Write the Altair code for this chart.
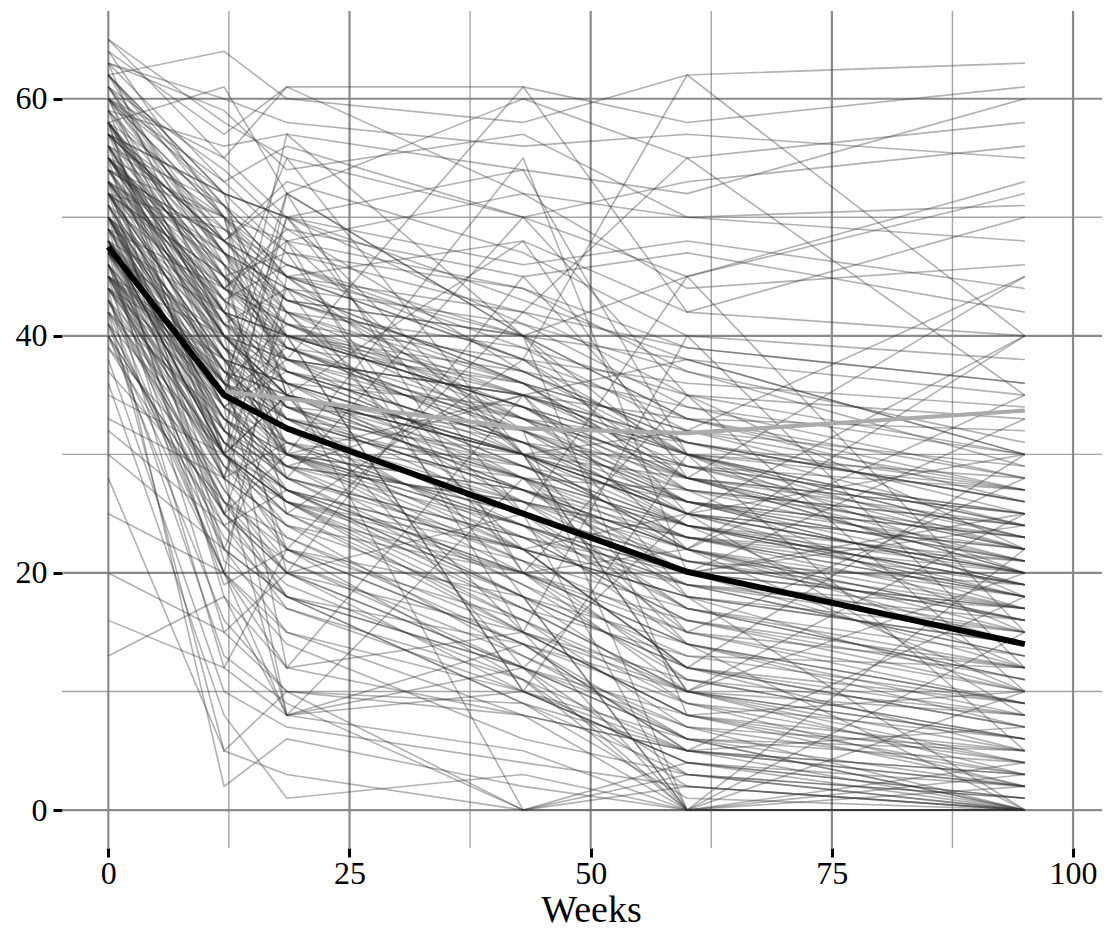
import altair as alt
import pandas as pd

FONT = "Liberation Serif"

# measurement weeks
weeks = [0, 12, 18.5, 43, 60, 95]

# individual trajectories (one entry per subject, same order in every list)
w0 = [52, 48, 55, 45, 50, 58, 43, 47, 60, 41, 53, 49, 56, 44, 51, 46, 57, 42, 54, 48,
      62, 39, 50, 45, 59, 40, 52, 47, 55, 43,
      50, 45, 38, 55, 42, 47, 52, 36, 49, 44, 58, 40, 53, 46, 41,
      50, 45, 55, 48, 60, 43, 52, 47, 58, 40, 54, 49, 62, 44, 51, 56, 46, 53, 39, 57,
      63, 60, 58, 65, 57, 62, 55, 59, 61, 54, 64, 52, 60, 56, 63,
      50, 45, 55, 48, 52, 47, 58, 44, 53, 49, 56, 46, 51, 42, 54, 48, 57, 45, 50, 43,
      20, 16, 13, 25, 30, 33, 28, 35, 32, 37,
      50, 46, 53, 48, 44, 55, 41, 51, 47, 58, 45, 52, 49, 43, 54,
      50, 55, 48, 60, 45, 52, 57, 47, 53, 44,
      45, 50, 40, 55, 48, 52, 46, 58, 42, 50,
      64, 62, 65, 61, 63,
      48, 52, 45, 50, 56, 43, 49, 54, 47, 51, 58, 44, 50, 46, 53, 41, 55, 48, 57, 45,
      58, 54, 61, 50, 56, 52, 47, 59, 53, 49, 57, 45, 60, 51, 55, 48, 62, 46, 54, 50,
      58, 44, 52, 47, 56, 42, 60, 49, 53, 57,
      60, 57, 62, 55, 59, 53, 61, 56, 58, 54, 63, 52, 60, 57, 55, 59, 61, 53, 58, 56]
w12 = [38, 30, 42, 28, 36, 45, 25, 33, 48, 22, 40, 34, 41, 30, 37, 29, 44, 27, 39, 35,
       50, 24, 32, 31, 47, 20, 36, 31, 43, 26,
       18, 12, 10, 22, 5, 15, 25, 8, 20, 2, 28, 16, 21, 19, 13,
       30, 35, 40, 28, 50, 20, 38, 32, 45, 25, 42, 36, 52, 30, 34, 40, 22, 46, 28, 35,
       60, 55, 61, 58, 52, 64, 50, 56, 54, 48, 57, 49, 53, 51, 59,
       40, 38, 44, 37, 42, 36, 46, 35, 41, 39, 45, 34, 43, 33, 47, 36, 48, 37, 41, 32,
       15, 12, 18, 20, 22, 28, 5, 30, 24, 26,
       38, 35, 40, 33, 32, 42, 30, 37, 34, 43, 36, 39, 31, 29, 41,
       42, 45, 38, 52, 40, 44, 48, 36, 39, 34,
       30, 35, 25, 40, 30, 38, 26, 47, 20, 33,
       50, 46, 55, 48, 40,
       30, 35, 27, 33, 38, 24, 32, 36, 29, 34, 40, 26, 31, 28, 37, 23, 39, 30, 42, 25,
       44, 40, 47, 37, 30, 45, 40, 36, 43, 38, 50, 33, 42, 28, 46, 42, 51, 31, 48, 35,
       30, 38, 34, 25, 41, 30, 39, 44, 32, 47,
       50, 48, 52, 46, 44, 47, 51, 49, 41, 50, 53, 45, 47, 52, 43, 49, 45, 44, 51, 42]
w18 = [33, 26, 36, 22, 30, 40, 20, 28, 42, 18, 35, 29, 37, 24, 31, 25, 39, 21, 34, 30,
       44, 19, 27, 27, 41, 15, 32, 26, 38, 23,
       12, 8, 7, 15, 3, 20, 18, 1, 14, 6, 8, 10, 17, 22, 9,
       52, 57, 20, 48, 30, 45, 12, 50, 28, 40, 55, 22, 35, 44, 8, 38, 35, 25, 42, 50,
       58, 61, 52, 55, 50, 60, 48, 57, 49, 53, 61, 45, 56, 47, 54,
       38, 36, 41, 35, 40, 33, 43, 32, 39, 37, 42, 31, 40, 30, 44, 34, 45, 35, 38, 29,
       10, 22, 8, 12, 18, 24, 10, 26, 27, 20,
       34, 31, 36, 30, 28, 37, 27, 33, 30, 39, 33, 35, 29, 26, 36,
       40, 47, 36, 50, 35, 42, 45, 52, 30, 38,
       25, 28, 20, 35, 22, 30, 18, 43, 8, 29,
       46, 40, 50, 43, 35,
       25, 27, 20, 28, 31, 17, 26, 30, 23, 29, 34, 22, 27, 24, 32, 18, 33, 26, 36, 21,
       40, 37, 44, 33, 35, 38, 34, 41, 30, 36, 42, 29, 38, 31, 40, 32, 45, 27, 43, 39,
       26, 30, 37, 30, 33, 35, 34, 41, 28, 39,
       45, 52, 47, 38, 49, 42, 40, 46, 44, 35, 48, 41, 37, 50, 46, 43, 39, 48, 45, 40]
w43 = [22, 15, 28, 14, 20, 30, 10, 19, 33, 9, 27, 21, 29, 17, 24, 16, 31, 13, 26, 23,
       36, 11, 18, 20, 32, 8, 25, 17, 30, 15,
       8, 5, 4, 10, 0, 12, 14, 3, 6, 2, 12, 9, 11, 16, 0,
       20, 40, 45, 15, 55, 30, 35, 25, 50, 10, 30, 42, 48, 18, 28, 61, 12, 38, 22, 54,
       56, 52, 60, 50, 46, 58, 52, 54, 45, 47, 61, 48, 50, 44, 57,
       35, 34, 38, 31, 37, 30, 40, 29, 36, 33, 39, 28, 34, 27, 41, 32, 42, 30, 35, 26,
       8, 14, 10, 15, 12, 20, 0, 22, 18, 25,
       28, 26, 30, 25, 23, 31, 22, 27, 24, 33, 27, 29, 24, 21, 30,
       10, 20, 0, 30, 15, 25, 32, 40, 35, 28,
       20, 22, 15, 30, 18, 25, 12, 40, 14, 35,
       40, 35, 43, 37, 28,
       15, 20, 12, 18, 22, 10, 16, 21, 14, 19, 25, 11, 17, 13, 23, 9, 24, 18, 26, 12,
       34, 31, 36, 28, 30, 32, 29, 33, 27, 30, 35, 26, 33, 24, 36, 26, 38, 22, 37, 32,
       20, 24, 29, 22, 27, 27, 28, 34, 23, 31,
       38, 40, 42, 35, 37, 36, 34, 39, 33, 30, 44, 35, 31, 41, 38, 36, 32, 30, 40, 34]
w60 = [12, 8, 18, 6, 14, 22, 4, 11, 25, 3, 20, 15, 23, 10, 17, 9, 24, 7, 19, 16,
       28, 5, 12, 14, 26, 0, 21, 13, 25, 11,
       5, 0, 2, 6, 0, 8, 9, 0, 3, 0, 7, 5, 0, 10, 4,
       35, 25, 30, 40, 20, 10, 22, 45, 35, 30, 15, 55, 28, 0, 20, 42, 25, 62, 12, 30,
       57, 50, 55, 45, 48, 62, 44, 52, 47, 40, 58, 42, 53, 39, 50,
       33, 30, 36, 29, 34, 28, 38, 26, 32, 31, 35, 27, 30, 24, 37, 28, 39, 26, 31, 23,
       5, 10, 4, 8, 6, 15, 3, 19, 14, 17,
       24, 22, 26, 21, 19, 27, 18, 23, 20, 29, 22, 24, 19, 17, 25,
       5, 12, 2, 10, 0, 0, 0, 8, 18, 14,
       22, 25, 10, 32, 0, 20, 0, 45, 5, 38,
       33, 30, 38, 31, 22,
       8, 10, 6, 9, 12, 4, 7, 11, 5, 13, 15, 2, 10, 6, 16, 1, 14, 12, 17, 3,
       28, 26, 30, 24, 25, 27, 23, 29, 22, 25, 31, 21, 28, 20, 32, 23, 33, 18, 30, 26,
       16, 19, 24, 18, 22, 21, 23, 28, 20, 25,
       30, 33, 35, 29, 31, 28, 27, 32, 26, 24, 37, 30, 25, 34, 28, 27, 24, 22, 29, 26]
w95 = [5, 3, 10, 0, 8, 15, 0, 6, 18, 1, 12, 9, 17, 4, 11, 2, 19, 0, 13, 10,
       21, 2, 7, 9, 20, 0, 16, 12, 22, 8,
       3, 0, 0, 4, 0, 5, 6, 2, 1, 0, 5, 7, 0, 3, 1,
       10, 30, 18, 12, 25, 20, 40, 15, 22, 5, 28, 35, 45, 10, 24, 50, 8, 40, 30, 20,
       55, 48, 58, 52, 44, 63, 46, 60, 42, 38, 61, 40, 56, 36, 51,
       32, 28, 34, 27, 30, 25, 35, 23, 29, 26, 33, 24, 22, 21, 31, 25, 36, 23, 27, 19,
       3, 6, 2, 4, 5, 12, 0, 17, 9, 13,
       20, 18, 22, 19, 16, 24, 15, 21, 17, 25, 14, 18, 13, 11, 20,
       2, 8, 0, 6, 3, 0, 4, 10, 0, 0,
       35, 40, 25, 45, 15, 33, 22, 53, 18, 30,
       26, 27, 30, 24, 16,
       2, 5, 0, 4, 7, 1, 3, 6, 0, 9, 10, 0, 8, 2, 11, 0, 7, 9, 12, 0,
       22, 21, 24, 19, 20, 23, 18, 25, 16, 22, 26, 17, 24, 15, 27, 20, 28, 14, 23, 21,
       12, 15, 19, 14, 17, 16, 18, 22, 17, 20,
       24, 27, 30, 22, 26, 20, 21, 25, 19, 18, 29, 23, 17, 28, 20, 15, 12, 10, 23, 19]

# estimated mean curve (black) and observed-completer curve (grey)
mean_weeks = [0, 12, 18.5, 43, 60, 95]
mean_vals = [47.5, 35.0, 32.2, 25.0, 20.1, 14.0]
obs_weeks = [12, 18.5, 43, 60, 95]
obs_vals = [35.3, 34.7, 32.2, 31.8, 33.7]

# grid / tick positions
x_major = [0, 25, 50, 75, 100]
x_minor = [12.5, 37.5, 62.5, 87.5]
y_major = [0, 20, 40, 60]
y_minor = [10, 30, 50]

cols = [w0, w12, w18, w43, w60, w95]
n = len(w0)
assert all(len(c) == n for c in cols)
rows = []
for i in range(n):
    for j, wk in enumerate(weeks):
        rows.append({"id": i, "week": wk, "value": cols[j][i]})
df = pd.DataFrame(rows)
mean_df = pd.DataFrame({"week": mean_weeks, "value": mean_vals})
obs_df = pd.DataFrame({"week": obs_weeks, "value": obs_vals})

xscale = alt.Scale(domain=[-4.8, 103], nice=False, zero=False)
yscale = alt.Scale(domain=[-3.2, 67.4], nice=False, zero=False)

xaxis = alt.Axis(values=x_major, title="Weeks", grid=False, domain=False,
                 tickColor="black", tickWidth=3, tickSize=9,
                 labelFont=FONT, labelFontSize=32, labelColor="black",
                 labelPadding=1, labelFlush=False, labelOverlap=False, format="d",
                 titleFont=FONT, titleFontSize=38, titleFontWeight="normal",
                 titleColor="black", titleX=529, titleY=73, titleAlign="center",
                 titleBaseline="alphabetic")
yaxis = alt.Axis(values=y_major, title=None, grid=False, domain=False,
                 tickColor="black", tickWidth=3, tickSize=9,
                 labelFont=FONT, labelFontSize=32, labelColor="black",
                 labelPadding=6, labelFlush=False, labelOverlap=False, format="d")

X = lambda f: alt.X(f, type="quantitative", scale=xscale, axis=xaxis)
Y = lambda f: alt.Y(f, type="quantitative", scale=yscale, axis=yaxis)

vmaj = alt.Chart(pd.DataFrame({"gx": x_major})).mark_rule(
    color="#8a8a8a", strokeWidth=2.2).encode(x=X("gx"))
vmin = alt.Chart(pd.DataFrame({"gx": x_minor})).mark_rule(
    color="#a5a5a5", strokeWidth=1.4).encode(x=X("gx"))
hmaj = alt.Chart(pd.DataFrame({"gy": y_major})).mark_rule(
    color="#8a8a8a", strokeWidth=2.2).encode(y=Y("gy"))
hmin = alt.Chart(pd.DataFrame({"gy": y_minor})).mark_rule(
    color="#a5a5a5", strokeWidth=1.4).encode(y=Y("gy"))

lines = alt.Chart(df).mark_line(color="#333333", opacity=0.38, strokeWidth=1.6).encode(
    x=X("week"), y=Y("value"), detail="id:N")
obs = alt.Chart(obs_df).mark_line(color="#ababab", strokeWidth=4.2).encode(
    x=X("week"), y=Y("value"))
mean = alt.Chart(mean_df).mark_line(color="black", strokeWidth=6).encode(
    x=X("week"), y=Y("value"))

chart = alt.layer(vmin, hmin, vmaj, hmaj, lines, obs, mean).properties(
    width=1040, height=837,
    autosize=alt.AutoSizeParams(type="none"),
    padding={"left": 54, "top": 3, "right": 0, "bottom": 80},
    background="white",
).configure_view(stroke=None)

chart.save("out.html", embed_options={"renderer": "svg", "actions": False})
